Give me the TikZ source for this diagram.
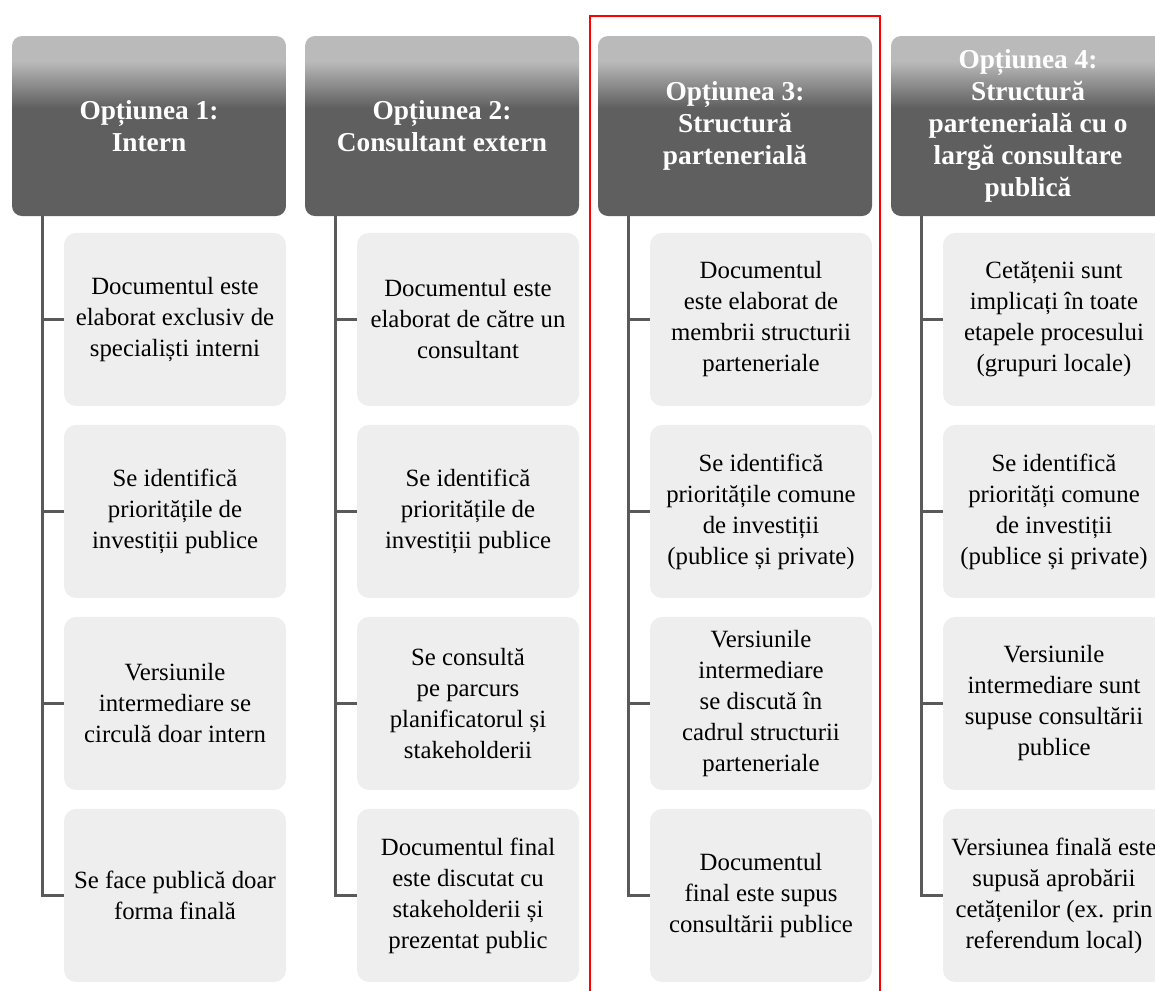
\documentclass[tikz,border=0pt]{standalone}
\usepackage{fontspec}
\setmainfont{Liberation Serif}
\usepackage{tikz}
\definecolor{hdrdark}{HTML}{5F5F5F}
\definecolor{hdrlight}{HTML}{BABABA}
\definecolor{boxfill}{HTML}{EEEEEE}
\definecolor{spinegray}{HTML}{5A5A5A}
\pgfdeclareverticalshading{hdrshade}{100bp}{color(0bp)=(hdrdark); color(55bp)=(hdrdark); color(68bp)=(hdrlight); color(100bp)=(hdrlight)}
\tikzset{
	optiune/.style={shade, shading=hdrshade, rounded corners=7.5pt, minimum width=205.5pt, minimum height=135pt, inner sep=0pt, align=center, text=white, font=\fontsize{20.5}{24}\selectfont\bfseries},
	pas/.style={fill=boxfill, rounded corners=9pt, minimum width=166.5pt, minimum height=129.75pt, inner sep=0pt, align=center, font=\fontsize{18.6}{23.25}\selectfont},
	spine/.style={draw=spinegray, line width=2.25pt}
}
\begin{document}
\begin{tikzpicture}[x=0.75pt, y=-0.75pt]
		\useasboundingbox (0,0) rectangle (1155,990);
		%capetele coloanelor
		\node (O1) [optiune] at (149,126) {Opțiunea 1:\\Intern};
		\node (O2) [optiune, right of=O1, node distance=219.75pt] {Opțiunea 2:\\Consultant extern};
		\node (O3) [optiune, right of=O2, node distance=219.75pt] {Opțiunea 3:\\Structură\\partenerială};
		\node (O4) [optiune, right of=O3, node distance=219.75pt] {Opțiunea 4:\\Structură\\partenerială cu o\\largă consultare\\publică};
		
		%pasii fiecarei optiuni
		\node (O1a) [pas, below of=O1, node distance=145.1pt, xshift=19.5pt] {Documentul este\\elaborat exclusiv de\\specialiști interni};
		\node (O1b) [pas, below of=O1a, node distance=144pt] {Se identifică\\prioritățile de\\investiții publice};
		\node (O1c) [pas, below of=O1b, node distance=144pt] {Versiunile\\intermediare se\\circulă doar intern};
		\node (O1d) [pas, below of=O1c, node distance=144pt] {Se face publică doar\\forma finală};
		
		\node (O2a) [pas, below of=O2, node distance=145.1pt, xshift=19.5pt] {Documentul este\\elaborat de către un\\consultant};
		\node (O2b) [pas, below of=O2a, node distance=144pt] {Se identifică\\prioritățile de\\investiții publice};
		\node (O2c) [pas, below of=O2b, node distance=144pt] {Se consultă\\pe parcurs\\planificatorul și\\stakeholderii};
		\node (O2d) [pas, below of=O2c, node distance=144pt] {Documentul final\\este discutat cu\\stakeholderii și\\prezentat public};
		
		\node (O3a) [pas, below of=O3, node distance=145.1pt, xshift=19.5pt] {Documentul\\este elaborat de\\membrii structurii\\parteneriale};
		\node (O3b) [pas, below of=O3a, node distance=144pt] {Se identifică\\prioritățile comune\\de investiții\\(publice și private)};
		\node (O3c) [pas, below of=O3b, node distance=144pt] {Versiunile\\intermediare\\se discută în\\cadrul structurii\\parteneriale};
		\node (O3d) [pas, below of=O3c, node distance=144pt] {Documentul\\final este supus\\consultării publice};
		
		\node (O4a) [pas, below of=O4, node distance=145.1pt, xshift=19.5pt] {Cetățenii sunt\\implicați în toate\\etapele procesului\\(grupuri locale)};
		\node (O4b) [pas, below of=O4a, node distance=144pt] {Se identifică\\priorități comune\\de investiții\\(publice și private)};
		\node (O4c) [pas, below of=O4b, node distance=144pt] {Versiunile\\intermediare sunt\\supuse consultării\\publice};
		\node (O4d) [pas, below of=O4c, node distance=144pt] {Versiunea finală este\\supusă aprobării\\cetățenilor (ex. prin\\referendum local)};
		
		%liniile de legatura
		\coordinate (S1) at ([xshift=23.25pt]O1.south west);
		\coordinate (S2) at ([xshift=23.25pt]O2.south west);
		\coordinate (S3) at ([xshift=23.25pt]O3.south west);
		\coordinate (S4) at ([xshift=23.25pt]O4.south west);
		\draw[spine] (S1) |- (O1d.west) (S1 |- O1a.west) -- (O1a.west) (S1 |- O1b.west) -- (O1b.west) (S1 |- O1c.west) -- (O1c.west);
		\draw[spine] (S2) |- (O2d.west) (S2 |- O2a.west) -- (O2a.west) (S2 |- O2b.west) -- (O2b.west) (S2 |- O2c.west) -- (O2c.west);
		\draw[spine] (S3) |- (O3d.west) (S3 |- O3a.west) -- (O3a.west) (S3 |- O3b.west) -- (O3b.west) (S3 |- O3c.west) -- (O3c.west);
		\draw[spine] (S4) |- (O4d.west) (S4 |- O4a.west) -- (O4a.west) (S4 |- O4b.west) -- (O4b.west) (S4 |- O4c.west) -- (O4c.west);
		
		%chenarul rosu
		\draw[red, line width=2.1pt] (590,16) rectangle (880,1000);
	\end{tikzpicture}
\end{document}
